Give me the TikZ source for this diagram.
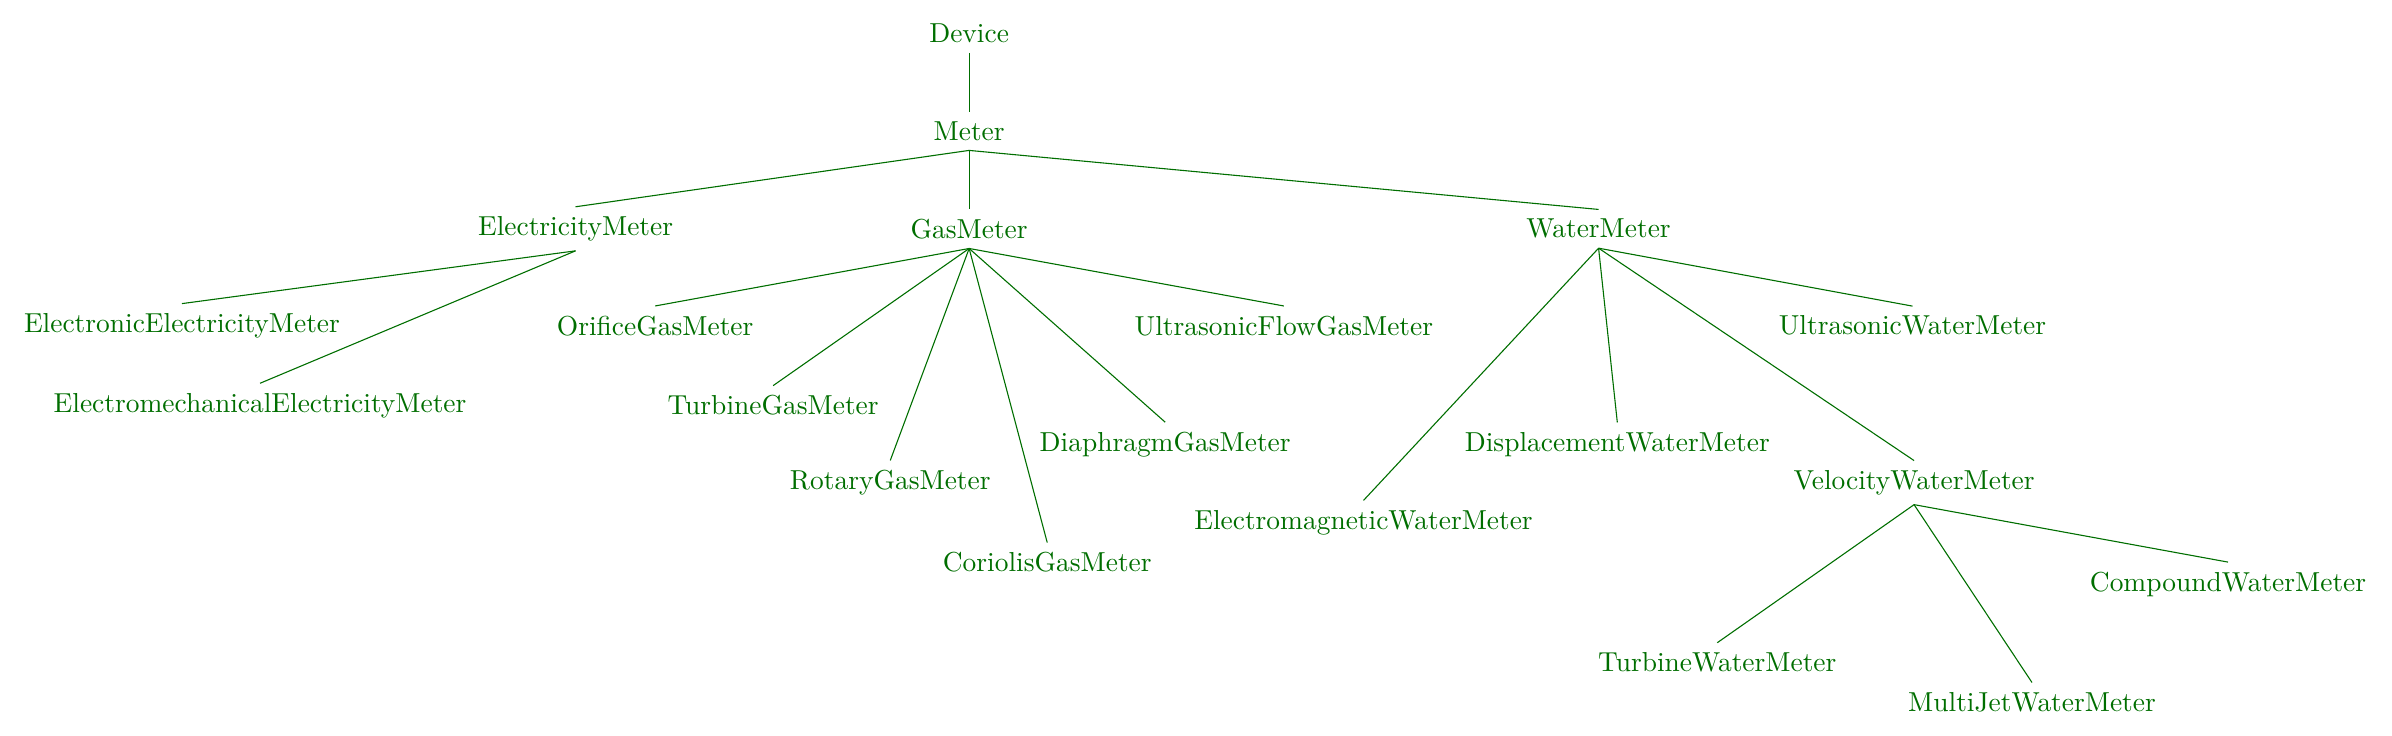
\documentclass[tikz,border=0pt]{standalone}
\usepackage{tikz}
\definecolor{metergreen}{RGB}{0,110,0}

\begin{document}
\begin{tikzpicture}[color=metergreen]
  \useasboundingbox (0,0) rectangle (30.63,-9.42);
  \node (device) at (12.41,-0.43) {Device};
  \node (meter) at (12.41,-1.68) {Meter};
  \node (elec) at (7.37,-2.93) {ElectricityMeter};
  \node (gas) at (12.41,-2.93) {GasMeter};
  \node (water) at (20.47,-2.93) {WaterMeter};
  \node (eelec) at (2.33,-4.17) {ElectronicElectricityMeter};
  \node (emelec) at (3.33,-5.19) {ElectromechanicalElectricityMeter};
  \node (orifice) at (8.39,-4.17) {OrificeGasMeter};
  \node (tgas) at (9.90,-5.19) {TurbineGasMeter};
  \node (rotary) at (11.40,-6.18) {RotaryGasMeter};
  \node (coriolis) at (13.41,-7.20) {CoriolisGasMeter};
  \node (diaphragm) at (14.92,-5.69) {DiaphragmGasMeter};
  \node (ufgas) at (16.44,-4.17) {UltrasonicFlowGasMeter};
  \node (emwater) at (17.46,-6.69) {ElectromagneticWaterMeter};
  \node (displ) at (20.71,-5.69) {DisplacementWaterMeter};
  \node (velocity) at (24.51,-6.18) {VelocityWaterMeter};
  \node (uwater) at (24.49,-4.17) {UltrasonicWaterMeter};
  \node (twater) at (21.99,-8.48) {TurbineWaterMeter};
  \node (multijet) at (26.02,-8.99) {MultiJetWaterMeter};
  \node (compound) at (28.53,-7.48) {CompoundWaterMeter};
  % Draw the subclass relations
  \draw (device.south) -- (meter.north);
  \foreach \c in {elec,gas,water}
    \draw (meter.south) -- (\c.north);
  \foreach \c in {eelec,emelec}
    \draw (elec.south) -- (\c.north);
  \foreach \c in {orifice,tgas,rotary,coriolis,diaphragm,ufgas}
    \draw (gas.south) -- (\c.north);
  \foreach \c in {emwater,displ,velocity,uwater}
    \draw (water.south) -- (\c.north);
  \foreach \c in {twater,multijet,compound}
    \draw (velocity.south) -- (\c.north);
\end{tikzpicture}
\end{document}
